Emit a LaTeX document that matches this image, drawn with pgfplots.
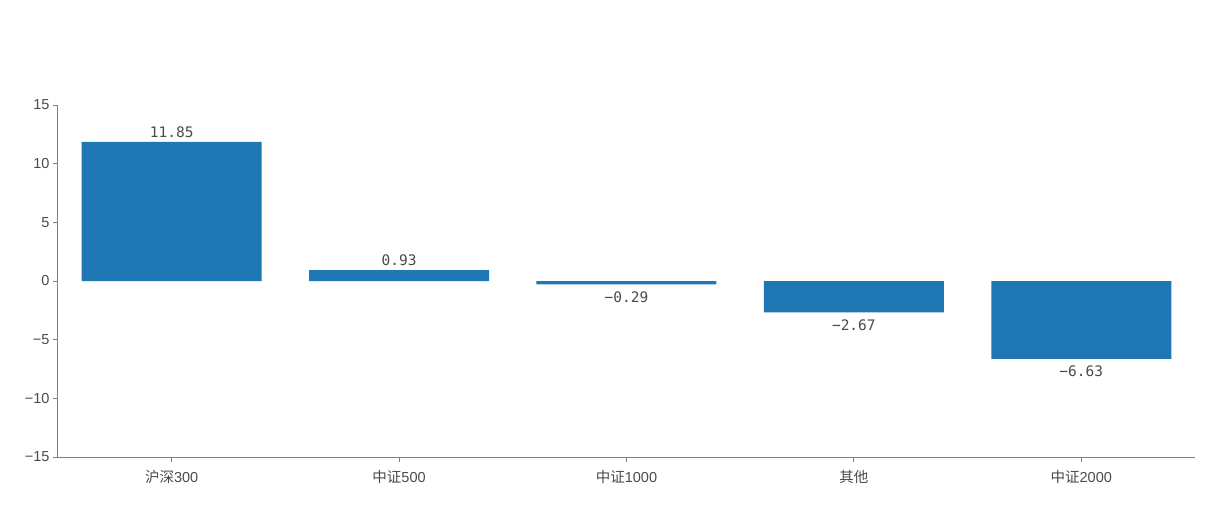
\documentclass[border=0pt]{standalone}
\usepackage{pgfplots}
\pgfplotsset{compat=1.18}
\usepackage{fontspec}
\setmainfont{Liberation Sans}
\newfontfamily\cjk{Noto Sans CJK SC}
\newfontfamily\monof{DejaVu Sans Mono}
\definecolor{barblue}{HTML}{1F77B4}
\definecolor{txtgray}{HTML}{4A4A4A}
\definecolor{axgray}{HTML}{808080}
\begin{document}
\begin{tikzpicture}
\useasboundingbox (-58pt,-47pt) rectangle (1151pt,457pt);
\begin{axis}[
  scale only axis,
  width=1137pt, height=352pt,
  xmin=-0.5, xmax=4.5,
  ymin=-15, ymax=15,
  ytick={-15,-10,-5,0,5,10,15},
  yticklabels={−15,−10,−5,0,5,10,15},
  xtick={0,1,2,3,4},
  xticklabels={{\cjk 沪深}300,{\cjk 中证}500,{\cjk 中证}1000,{\cjk 其他},{\cjk 中证}2000},
  axis x line*=bottom,
  axis y line*=left,
  axis line style={axgray, line width=1pt},
  tick style={axgray, line width=0.8pt},
  tick align=outside,
  major tick length=5pt,
  ticklabel style={font=\fontsize{14.5}{16}\selectfont, text=txtgray},
  xticklabel style={yshift=-5pt},
  ybar,
  bar width=180pt,
  bar shift=0pt,
  point meta=explicit symbolic,
  nodes near coords,
  nodes near coords style={font=\monof\fontsize{14.5}{16}\selectfont, text=txtgray, inner sep=4.5pt},
]
\addplot[fill=barblue, draw=none, nodes near coords align=above] coordinates {(0,11.85) [11.85] (1,0.93) [0.93]};
\addplot[fill=barblue, draw=none, nodes near coords align=below, every node near coord/.append style={inner sep=7pt}] coordinates {(2,-0.29) [−0.29] (3,-2.67) [−2.67] (4,-6.63) [−6.63]};
\end{axis}
\end{tikzpicture}
\end{document}
